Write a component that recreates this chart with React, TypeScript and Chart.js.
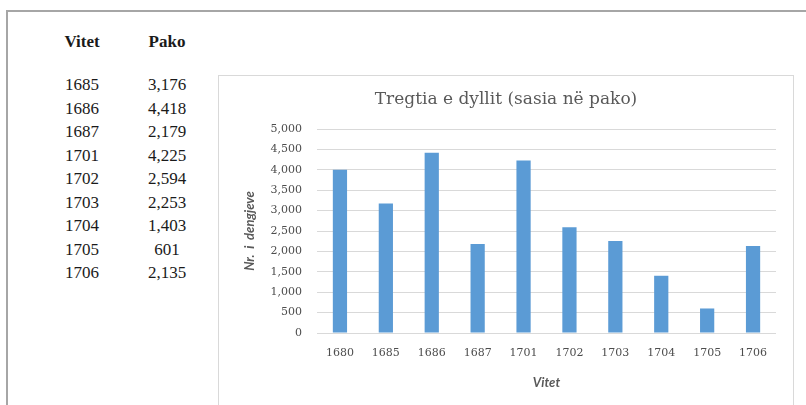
import React, { useEffect, useRef } from "react";
import { Chart, registerables } from "chart.js";

Chart.register(...registerables);

const years = ["1680", "1685", "1686", "1687", "1701", "1702", "1703", "1704", "1705", "1706"];
const pako = [4000, 3176, 4418, 2179, 4225, 2594, 2253, 1403, 601, 2135];

const tableHeaders = ["Vitet", "Pako"];
const tableYears = ["1685", "1686", "1687", "1701", "1702", "1703", "1704", "1705", "1706"];
const tableValues = ["3,176", "4,418", "2,179", "4,225", "2,594", "2,253", "1,403", "601", "2,135"];

const chartTitle = "Tregtia e dyllit (sasia në pako)";
const yTitle = "Nr.  i  dengjeve";
const xTitle = "Vitet";
const yMin = 0;
const yMax = 5000;
const yStep = 500;

const GRAY = "#595959";
const TICK = "#4d4d4d";

const titlePlugin = {
  id: "centerTitle",
  afterDraw(chart: any) {
    const ctx = chart.ctx;
    ctx.save();
    ctx.font = '17px "DejaVu Serif"';
    ctx.fillStyle = GRAY;
    ctx.textAlign = "center";
    ctx.textBaseline = "middle";
    ctx.fillText(chartTitle, chart.width / 2, 24);
    ctx.restore();
  },
};

export default function App() {
  const ref = useRef<HTMLCanvasElement | null>(null);

  useEffect(() => {
    document.body.style.overflow = "hidden";
    document.documentElement.style.overflow = "hidden";
    const canvas = ref.current;
    if (!canvas) return;
    const chart = new Chart(canvas, {
      type: "bar",
      data: {
        labels: years,
        datasets: [
          {
            data: pako,
            backgroundColor: "#5b9bd5",
            borderWidth: 0,
            categoryPercentage: 1,
            barPercentage: 0.31,
          },
        ],
      },
      options: {
        responsive: false,
        animation: false,
        devicePixelRatio: 1,
        layout: { padding: { top: 53, right: 17, left: 0, bottom: 0 } },
        plugins: {
          legend: { display: false },
          tooltip: { enabled: false },
          title: { display: false },
        },
        scales: {
          x: {
            grid: { display: false, drawTicks: false },
            border: { display: false },
            ticks: {
              color: TICK,
              padding: 14,
              font: { family: '"DejaVu Serif"', size: 11 },
              maxRotation: 0,
              autoSkip: false,
            },
            title: {
              display: true,
              text: xTitle,
              color: GRAY,
              font: { family: "Lato", size: 13, style: "italic", weight: "bold" },
              padding: { top: 14, bottom: 14 },
            },
            afterFit(scale: any) {
              scale.height = 72;
            },
          },
          y: {
            min: yMin,
            max: yMax,
            grid: { color: "#d9d9d9", lineWidth: 1, drawTicks: false },
            border: { display: false },
            ticks: {
              stepSize: yStep,
              color: TICK,
              padding: 15,
              font: { family: '"DejaVu Serif"', size: 11 },
              callback: (v: any) => Number(v).toLocaleString("en-US"),
            },
            title: {
              display: true,
              text: yTitle,
              color: GRAY,
              font: { family: "Lato", size: 13, style: "italic", weight: "bold" },
              padding: { top: 23, bottom: 23 },
            },
            afterFit(scale: any) {
              scale.width = 98;
            },
          },
        },
      },
      plugins: [titlePlugin],
    });
    return () => chart.destroy();
  }, []);

  const textFont = '"Liberation Serif", "Times New Roman", serif';
  const cellStyle = (cx: number, cy: number, bold = false): React.CSSProperties => ({
    position: "absolute",
    left: cx - 40,
    width: 80,
    top: cy - 11,
    height: 22,
    lineHeight: "22px",
    textAlign: "center",
    fontFamily: textFont,
    fontSize: 17,
    fontWeight: bold ? "bold" : "normal",
    color: "#1a1a1a",
    whiteSpace: "nowrap",
  });

  return (
    <div>
      <div
        style={{
          position: "absolute",
          left: 6,
          top: 10,
          width: 800,
          height: 395,
          boxSizing: "border-box",
          borderTop: "2px solid #a6a6a6",
          borderLeft: "2px solid #a6a6a6",
        }}
      />
      <div style={cellStyle(82, 42, true)}>{tableHeaders[0]}</div>
      <div style={cellStyle(167, 42, true)}>{tableHeaders[1]}</div>
      {tableYears.map((y, i) => (
        <div key={"y" + i} style={cellStyle(82, 85 + i * 23.5)}>
          {y}
        </div>
      ))}
      {tableValues.map((v, i) => (
        <div key={"v" + i} style={cellStyle(167, 85 + i * 23.5)}>
          {v}
        </div>
      ))}
      <div
        style={{
          position: "absolute",
          left: 218,
          top: 75,
          width: 576,
          height: 330,
          boxSizing: "border-box",
          borderTop: "1px solid #d9d9d9",
          borderLeft: "1px solid #d9d9d9",
          borderRight: "1px solid #d9d9d9",
          background: "#fff",
        }}
      >
        <canvas ref={ref} width={574} height={329} style={{ display: "block" }} />
      </div>
    </div>
  );
}
